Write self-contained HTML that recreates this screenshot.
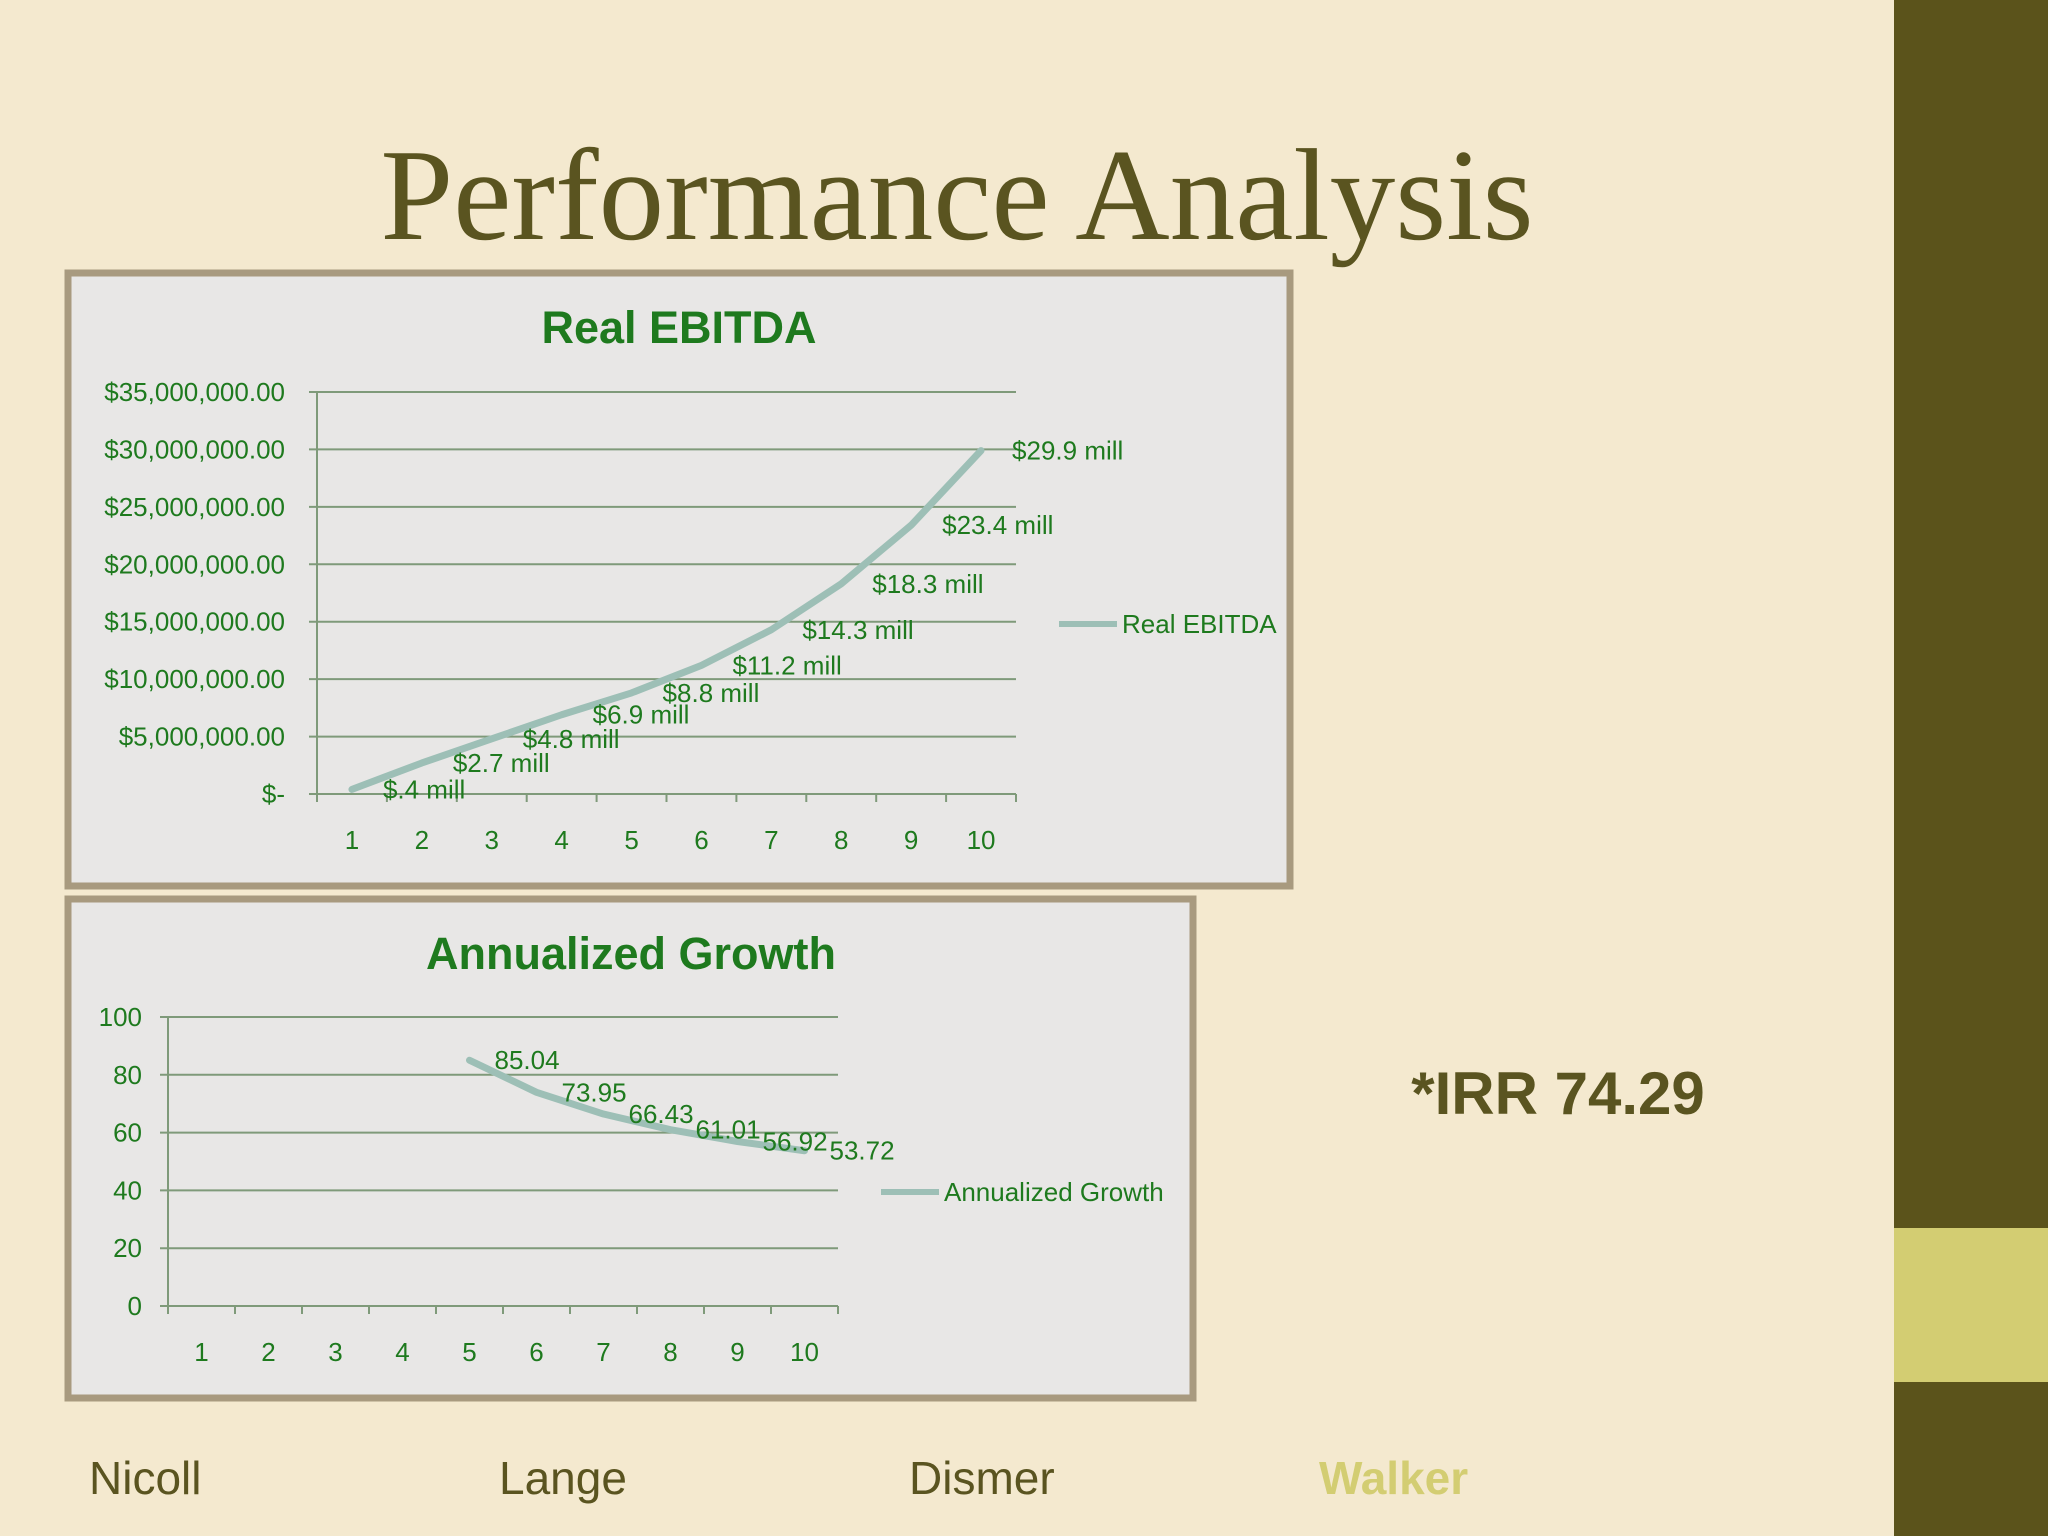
<!DOCTYPE html>
<html><head><meta charset="utf-8">
<style>
html,body{margin:0;padding:0;}
body{width:2048px;height:1536px;overflow:hidden;background:#f4e9cf;font-family:"Liberation Sans",sans-serif;}
svg{display:block}
</style></head>
<body>
<svg id="s" width="2048" height="1536" xmlns="http://www.w3.org/2000/svg">
<rect x="0" y="0" width="2048" height="1536" fill="#f4e9cf"/>
<rect x="1894" y="0" width="154" height="1536" fill="#5b531b"/>
<rect x="1894" y="1228" width="154" height="154" fill="#d3cd72"/>
<text x="957" y="239" text-anchor="middle" font-family="Liberation Serif, serif" font-size="131" fill="#5a5420">Performance Analysis</text>
<rect x="68" y="273" width="1222" height="613" fill="#e8e7e6" stroke="#a89a7f" stroke-width="7"/>
<rect x="68" y="899" width="1125" height="499" fill="#e8e7e6" stroke="#a89a7f" stroke-width="7"/>
<g id="c1"></g>
<g id="c2"></g>
<text x="1558" y="1114" text-anchor="middle" font-weight="bold" font-size="60" fill="#5a5420">*IRR 74.29</text>
<text x="89" y="1494" font-size="46" fill="#5a5420">Nicoll</text>
<text x="499" y="1494" font-size="46" fill="#5a5420">Lange</text>
<text x="909" y="1494" font-size="46" fill="#5a5420">Dismer</text>
<text x="1319" y="1494" font-size="46" font-weight="bold" fill="#d3cd72">Walker</text>
</svg>
<script>
const categories=[1,2,3,4,5,6,7,8,9,10];
const ebitdaValues=[0.4,2.7,4.8,6.9,8.8,11.2,14.3,18.3,23.4,29.9];
const ebitdaLabels=["$.4 mill","$2.7 mill","$4.8 mill","$6.9 mill","$8.8 mill","$11.2 mill","$14.3 mill","$18.3 mill","$23.4 mill","$29.9 mill"];
const ebitdaTicks=[0,5,10,15,20,25,30,35];
const ebitdaTickLabels=["$-","$5,000,000.00","$10,000,000.00","$15,000,000.00","$20,000,000.00","$25,000,000.00","$30,000,000.00","$35,000,000.00"];
const growthValues=[null,null,null,null,85.04,73.95,66.43,61.01,56.92,53.72];
const growthLabels=["","","","","85.04","73.95","66.43","61.01","56.92","53.72"];
const growthTicks=[0,20,40,60,80,100];
const NS="http://www.w3.org/2000/svg";
const G="#1e7a1e",LINE="#9dbfb6",GRID="#7f9a7a";
function mk(p,t,a,txt){const e=document.createElementNS(NS,t);for(const k in a)e.setAttribute(k,a[k]);if(txt!==undefined)e.textContent=txt;p.appendChild(e);return e;}
function chart(g,o){
  const {x0,x1,y0,y1,max,ticks,tickLabels,vals,labels,title,tx,ty,legX,legY,legText,xly,ylx,fs}=o;
  const bw=(x1-x0)/categories.length;
  const X=i=>x0+bw*(i+0.5);
  const Y=v=>y0-(v/max)*(y0-y1);
  let t=mk(g,'text',{x:tx,y:ty,'text-anchor':'middle','font-weight':'bold','font-size':45,fill:G},title);
  
  ticks.forEach((v,i)=>{
    let l=mk(g,'line',{x1:x0-8,x2:x1,y1:Y(v),y2:Y(v),stroke:GRID,'stroke-width':2});
    
    let tl=mk(g,'text',{x:ylx,y:Y(v)+9,'text-anchor':'end','font-size':fs,fill:G},tickLabels?tickLabels[i]:String(v));
    
  });
  let ax=mk(g,'line',{x1:x0,x2:x0,y1:y1,y2:y0,stroke:GRID,'stroke-width':2});
  
  for(let i=0;i<=categories.length;i++){
    let tk=mk(g,'line',{x1:x0+bw*i,x2:x0+bw*i,y1:y0,y2:y0+8,stroke:GRID,'stroke-width':2});
    
  }
  categories.forEach((c,i)=>{
    let xl=mk(g,'text',{x:X(i),y:xly,'text-anchor':'middle','font-size':fs,fill:G},String(c));
    
  });
  let d='';vals.forEach((v,i)=>{if(v===null)return;d+=(d?'L':'M')+X(i)+' '+Y(v)+' ';});
  let p=mk(g,'path',{d:d,fill:'none',stroke:LINE,'stroke-width':7,'stroke-linejoin':'round','stroke-linecap':'round'});
  
  vals.forEach((v,i)=>{if(v===null)return;
    let dl=mk(g,'text',{x:X(i)+o.lx,y:Y(v)+9,'font-size':fs,fill:G},labels[i]);
    
  });
  let ll=mk(g,'line',{x1:legX,x2:legX+58,y1:legY,y2:legY,stroke:LINE,'stroke-width':6});
  
  let lt=mk(g,'text',{x:legX+63,y:legY+9,'font-size':fs,fill:G},legText);
  
}
chart(document.getElementById('c1'),{x0:317,x1:1016,y0:794,y1:392,max:35,ticks:ebitdaTicks,tickLabels:ebitdaTickLabels,vals:ebitdaValues,labels:ebitdaLabels,title:'Real EBITDA',tx:679,ty:343,legX:1059,legY:624,legText:'Real EBITDA',xly:849,ylx:285,fs:26,lx:31});
chart(document.getElementById('c2'),{x0:168,x1:838,y0:1306,y1:1017,max:100,ticks:growthTicks,tickLabels:null,vals:growthValues,labels:growthLabels,title:'Annualized Growth',tx:631,ty:969,legX:881,legY:1192,legText:'Annualized Growth',xly:1361,ylx:142,fs:26,lx:25});
</script>
</body></html>
